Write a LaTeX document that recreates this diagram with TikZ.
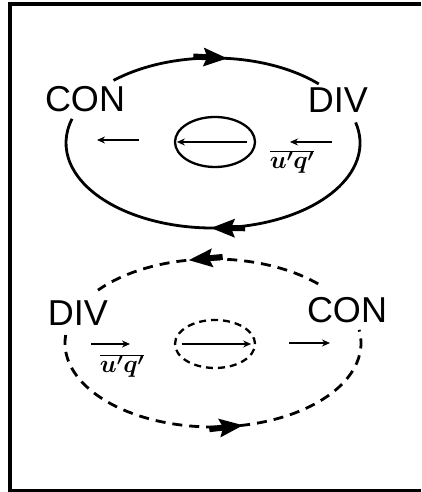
\documentclass[tikz,border=0pt]{standalone}
\usepackage{fontspec}
\usetikzlibrary{shapes.geometric, arrows.meta, positioning, decorations.markings}
\newfontfamily\lblfont{Liberation Sans}
\tikzstyle{region} = [font=\lblfont\fontsize{36}{42}\selectfont, inner sep=0pt]
\tikzstyle{flux} = [font=\fontsize{26}{30}\selectfont\boldmath, inner sep=0pt]
\tikzstyle{loop} = [line width=2.8pt]
\tikzstyle{dloop} = [line width=2.8pt, dash pattern=on 10pt off 7pt]
\tikzstyle{cell} = [ellipse, draw, line width=2.3pt, minimum width=80pt, minimum height=50pt, inner sep=0pt]
\tikzstyle{small} = [line width=2.3pt, -{Stealth[length=8pt,width=7pt]}]
% big head on the loops: thick stub + triangle, tip at the mark
\tikzset{midarrow/.style={postaction={decorate},
  decoration={markings, mark=at position #1 with {
    \fill (-34pt,-3pt) rectangle (-16pt,3pt);
    \fill (0pt,0pt) -- (-24pt,9.5pt) -- (-20pt,0pt) -- (-24pt,-9.5pt) -- cycle;}}}}

\begin{document}
\begin{tikzpicture}[x=1pt, y=1pt]
    \useasboundingbox (0,0) rectangle (421,492);
    % frame (right side cut off)
    \draw [line width=3.5pt] (421,488) -- (10,488) -- (10,1.5) -- (421,1.5);

    % upper circulation
    \coordinate (c1) at (213,349);
    \node (con1) [region] at (85,393) {CON};
    \node (div1) [region] at (338,392) {DIV};
    \draw [loop, midarrow=0.55] (c1) ++(132.6:147 and 85) arc[start angle=132.6, end angle=44, x radius=147, y radius=85];
    \draw [loop, midarrow=0.5] (c1) ++(14:147 and 85) arc[start angle=14, end angle=-196.5, x radius=147, y radius=85];
    \node (in1) [cell] at (215,350) {};
    \draw [small] ([xshift=-9pt]in1.east) -- ([xshift=3pt]in1.west);
    \coordinate (a1) at (139,352);
    \coordinate (b1) at (97,352);
    \draw [small] (a1) -- (b1);
    \coordinate (a2) at (332,350);
    \coordinate (b2) at (290,350);
    \draw [small] (a2) -- (b2);
    \node (uq1) [flux] at (292,330) {$\overline{u'q'}$};

    % lower circulation
    \coordinate (c2) at (213,149);
    \node (div2) [region] at (78,179) {DIV};
    \node (con2) [region] at (347,182) {CON};
    \draw [dloop, midarrow=0.58] (c2) ++(44.7:148 and 84) arc[start angle=44.7, end angle=141, x radius=148, y radius=84];
    \draw [dloop, midarrow=0.57] (c2) ++(174.5:148 and 84) arc[start angle=174.5, end angle=369, x radius=148, y radius=84];
    \node (in2) [cell, dash pattern=on 7pt off 5pt, minimum height=48pt] at (215,148) {};
    \draw [small] ([xshift=8pt]in2.west) -- ([xshift=-5pt]in2.east);
    \coordinate (a3) at (91,148);
    \coordinate (b3) at (130,148);
    \draw [small] (a3) -- (b3);
    \coordinate (a4) at (289,149);
    \coordinate (b4) at (330,149);
    \draw [small] (a4) -- (b4);
    \node (uq2) [flux] at (122,126) {$\overline{u'q'}$};
\end{tikzpicture}
\end{document}
